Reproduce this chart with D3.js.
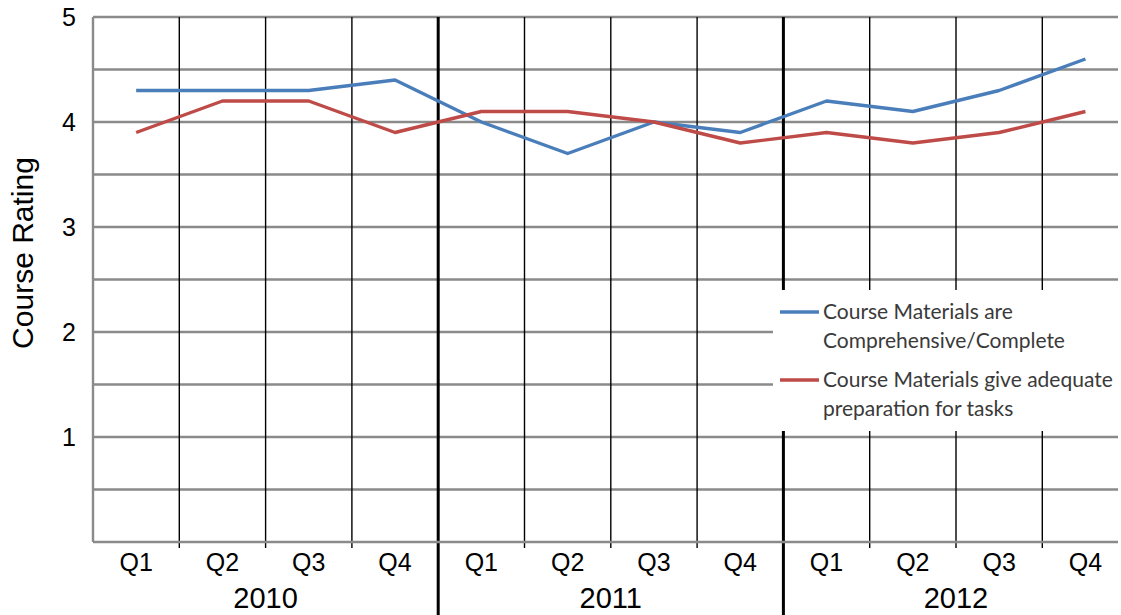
<!DOCTYPE html>
<html>
<head>
<meta charset="utf-8">
<script src="https://cdn.jsdelivr.net/npm/d3@7"></script>
<style>
  body { margin: 0; background: #fff; }
  svg { display: block; }
</style>
</head>
<body>
<svg id="chart" width="1121" height="615"></svg>
<script>
// ===== DADOS =====
const years = ["2010", "2011", "2012"];
const quarters = ["Q1", "Q2", "Q3", "Q4"];
const comprehensive = [4.3, 4.3, 4.3, 4.4, 4.0, 3.7, 4.0, 3.9, 4.2, 4.1, 4.3, 4.6];
const preparation = [3.9, 4.2, 4.2, 3.9, 4.1, 4.1, 4.0, 3.8, 3.9, 3.8, 3.9, 4.1];
const seriesNames = [
  ["Course Materials are", "Comprehensive/Complete"],
  ["Course Materials give adequate", "preparation for tasks"]
];
const yTicks = [1, 2, 3, 4, 5];

// ===== LAYOUT =====
const plotLeft = 93, plotTop = 17, plotBottom = 542, plotRight = 1118;
const step = 86.3;
const colors = ["#4a7ebb", "#be4b48"];
const axisFont = "Liberation Sans, Arial, sans-serif";

const keys = [];
years.forEach(yr => quarters.forEach(q => keys.push(yr + "-" + q)));

const x = d3.scaleBand().domain(keys).range([plotLeft, plotLeft + keys.length * step]);
const y = d3.scaleLinear().domain([0, 5]).range([plotBottom, plotTop]);

const svg = d3.select("#chart");

// grelha horizontal a cada 0.5
const gridVals = d3.range(1, 11).map(d => d / 2);
svg.append("g").selectAll("line")
  .data(gridVals)
  .join("line")
  .attr("x1", plotLeft).attr("x2", plotRight)
  .attr("y1", d => y(d)).attr("y2", d => y(d))
  .attr("stroke", "#8a8a8a").attr("stroke-width", 2.4);

// linhas verticais entre trimestres
const bounds = keys.slice(1).map((k, i) => ({ x: x(k), yearBreak: (i + 1) % 4 === 0 }));
svg.append("g").selectAll("line")
  .data(bounds)
  .join("line")
  .attr("x1", d => d.x).attr("x2", d => d.x)
  .attr("y1", plotTop)
  .attr("y2", d => d.yearBreak ? 615 : plotBottom + 6)
  .attr("stroke", "#000")
  .attr("stroke-width", d => d.yearBreak ? 3 : 1.4);

// eixos
svg.append("line")
  .attr("x1", plotLeft).attr("x2", plotLeft).attr("y1", plotTop).attr("y2", plotBottom)
  .attr("stroke", "#8a8a8a").attr("stroke-width", 2.4);
svg.append("line")
  .attr("x1", plotLeft).attr("x2", plotRight).attr("y1", plotBottom).attr("y2", plotBottom)
  .attr("stroke", "#8a8a8a").attr("stroke-width", 2.4);

// rótulos do eixo Y
svg.append("g").selectAll("text")
  .data(yTicks)
  .join("text")
  .attr("x", 76).attr("y", d => y(d))
  .attr("dy", "0.35em")
  .attr("text-anchor", "end")
  .attr("font-family", axisFont)
  .attr("font-size", 25)
  .text(d => d);

svg.append("text")
  .attr("transform", "translate(33,253) rotate(-90)")
  .attr("text-anchor", "middle")
  .attr("font-family", axisFont)
  .attr("font-size", 30)
  .text("Course Rating");

// rótulos do eixo X
const cx = k => x(k) + x.bandwidth() / 2;
svg.append("g").selectAll("text")
  .data(keys)
  .join("text")
  .attr("x", k => cx(k)).attr("y", 562)
  .attr("dy", "0.35em")
  .attr("text-anchor", "middle")
  .attr("font-family", axisFont)
  .attr("font-size", 25)
  .text(k => k.split("-")[1]);

svg.append("g").selectAll("text")
  .data(years)
  .join("text")
  .attr("x", yr => (cx(yr + "-Q1") + cx(yr + "-Q4")) / 2)
  .attr("y", 598)
  .attr("dy", "0.35em")
  .attr("text-anchor", "middle")
  .attr("font-family", axisFont)
  .attr("font-size", 29)
  .text(yr => yr);

// séries
const line = d3.line().x((d, i) => cx(keys[i])).y(d => y(d));
[comprehensive, preparation].forEach((s, i) => {
  svg.append("path")
    .datum(s)
    .attr("d", line)
    .attr("fill", "none")
    .attr("stroke", colors[i])
    .attr("stroke-width", 3.4)
    .attr("stroke-linejoin", "round");
});

// legenda
const lg = svg.append("g");
lg.append("rect")
  .attr("x", 773).attr("y", 290).attr("width", 350).attr("height", 141)
  .attr("fill", "#fff");
seriesNames.forEach((lines, i) => {
  const ly = 312 + i * 68;
  lg.append("line")
    .attr("x1", 780).attr("x2", 819).attr("y1", ly).attr("y2", ly)
    .attr("stroke", colors[i]).attr("stroke-width", 3.4);
  lines.forEach((t, j) => {
    lg.append("text")
      .attr("x", 823).attr("y", ly + j * 29)
      .attr("dy", "0.35em")
      .attr("font-family", "Lato, 'Open Sans', sans-serif")
      .attr("font-size", 21)
      .attr("fill", "#3a3a3a")
      .text(t);
  });
});
</script>
</body>
</html>
